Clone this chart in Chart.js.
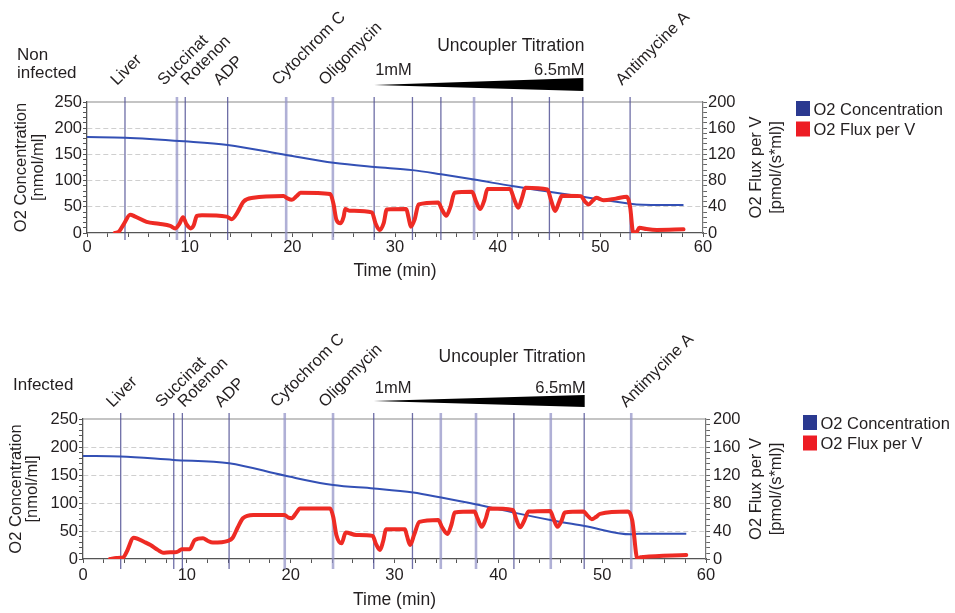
<!DOCTYPE html>
<html><head><meta charset="utf-8">
<script src="https://cdn.jsdelivr.net/npm/chart.js@4"></script>
<style>
html,body{margin:0;padding:0;background:#fff;}
#wrap{position:relative;width:955px;height:613px;overflow:hidden;}
canvas{position:absolute;left:0;}
</style></head><body>
<div id="wrap">
<canvas id="c1" width="955" height="300" style="top:0px"></canvas>
<canvas id="c2" width="955" height="313" style="top:300px"></canvas>
</div>
<script>
// ---------------- DATA ----------------
const seriesNames = ['O2 Concentration', 'O2 Flux per V'];
const conditionNI = ['Non', 'infected'];
const conditionI = ['Infected'];
const titrationTitle = 'Uncoupler Titration';
const titrationStart = '1mM';
const titrationEnd = '6.5mM';
const xTickLabels = [0, 10, 20, 30, 40, 50, 60];
const leftTickLabels = [0, 50, 100, 150, 200, 250];
const rightTickLabels = [0, 40, 80, 120, 160, 200];
const xTitle = 'Time (min)';
const leftTitle = ['O2 Concentration', '[nmol/ml]'];
const rightTitle = ['O2 Flux per V', '[pmol/(s*ml)]'];

const eventNames = ['Liver','Succinat','Rotenon','ADP','Cytochrom C','Oligomycin','','','','','','','','Antimycine A'];
const eventTimesNI = [3.7, 8.76, 9.57, 13.7, 19.4, 23.95, 27.97, 31.7, 34.47, 37.7, 41.4, 45.04, 48.3, 52.9];
const eventTimesI  = [3.63, 8.74, 9.57, 14.07, 19.43, 24.08, 28.0, 31.73, 34.46, 37.85, 41.5, 45.05, 48.27, 52.8];

// Non infected: O2 concentration (left axis)
const concTimeNI = [0, 3.7, 9.5, 13.7, 19.4, 24, 28, 31.7, 34.5, 37.7, 41.4, 45, 48.3, 52.9, 53.5, 58.1];
const concNI     = [183, 182, 175, 168, 149, 134, 126, 120, 112, 102, 89.5, 78.7, 69, 56, 54.5, 53.3];
// Non infected: O2 flux per V (right axis)
const fluxTimeNI = [2.7, 3.1, 3.6, 4.2, 4.7, 5.8, 7.0, 8.1, 8.6, 9.0, 9.35, 9.7, 10.1, 10.4, 10.7, 11.2, 13.6, 14.1, 14.6, 15.25, 16.2, 19.15, 19.5, 19.96, 20.4, 20.8, 23.7, 24.0, 24.3, 24.7, 25.0, 25.15, 25.6, 27.75, 28.1, 28.5, 28.9, 29.2, 31.1, 31.3, 31.55, 31.9, 32.3, 34.2, 34.6, 35.0, 35.4, 35.8, 37.5, 37.9, 38.3, 38.7, 39.0, 41.2, 41.6, 42.0, 42.4, 42.7, 44.85, 45.2, 45.6, 46.0, 46.25, 48.1, 48.5, 48.85, 49.3, 49.6, 50.3, 51.5, 52.6, 52.9, 53.2, 53.5, 53.8, 54.5, 55.5, 58.1];
const fluxNI     = [0, 2, 14, 28, 25, 17, 14, 11, 7, 14, 24, 13, 7, 12, 26, 27, 25, 21, 30, 48, 53.7, 56.3, 53, 50.7, 56, 61.4, 59.4, 45, 20, 15, 25, 36.5, 34, 31.5, 15, 4.6, 15, 36, 36.5, 25, 9.6, 20, 43.7, 46.7, 35, 26.4, 40, 61.4, 62.9, 48, 36.5, 50, 67, 67, 52, 38.5, 55, 69, 66.5, 50, 33.5, 48, 56.8, 56.3, 48, 43.7, 50, 53.7, 50, 52.5, 55.3, 40, 1, 1, 8, 6, 4.6, 5.6];

// Infected: O2 concentration (left axis)
const concTimeI = [0, 3.6, 8.7, 14.07, 19.4, 24.1, 28, 31.8, 34.5, 37.8, 41.5, 45, 48.3, 52.8, 53.5, 58.1];
const concI     = [184, 183, 177, 171, 149, 132, 126, 118.7, 109.7, 97.8, 82.8, 69.8, 59, 44, 45, 45];
// Infected: O2 flux per V (right axis)
const fluxTimeI = [2.6, 3.2, 3.85, 4.2, 4.88, 5.95, 6.5, 7.2, 7.7, 8.4, 8.83, 9.2, 9.5, 10.28, 10.76, 11.56, 12.0, 12.5, 13.97, 14.4, 14.9, 15.4, 16.4, 19.4, 19.8, 20.1, 20.5, 20.9, 23.8, 24.1, 24.4, 24.9, 25.3, 26.3, 27.9, 28.2, 28.6, 28.9, 29.2, 31.0, 31.2, 31.5, 31.9, 32.4, 34.2, 34.6, 35.1, 35.5, 35.8, 37.7, 38.0, 38.4, 38.8, 39.1, 41.4, 41.7, 42.1, 42.5, 42.9, 45.0, 45.3, 45.7, 46.1, 46.4, 48.2, 48.6, 49.0, 49.4, 49.8, 52.5, 52.9, 53.4, 53.7, 54.0, 58.1];
const fluxI     = [0, 1.5, 2, 10, 30.5, 24, 20, 13, 9, 9.5, 9.5, 11, 14, 14, 27, 29.6, 26, 23.4, 26, 30, 45, 58.2, 63, 63, 59, 58.2, 65, 72, 72, 60, 34.4, 22.4, 37.7, 34.4, 33, 22, 12.9, 25, 42.5, 42.5, 33, 20, 35, 53, 55.8, 45, 35.8, 50, 66.3, 67.7, 58, 46, 58, 72, 70, 58, 45.3, 55, 67.7, 68.7, 58, 46, 55, 66.3, 67.7, 62, 56.8, 60, 64.4, 67.7, 55, 0, 2.5, 3, 5.7];

// ---------------- STYLE ----------------
const FONT = '"Liberation Sans", Arial, Helvetica, sans-serif';
const TXT = '#231f20';
const BLUE_LINE = '#3350b5';
const BLUE_KEY = '#2b3990';
const RED_LINE = '#ee2b24';
const RED_KEY = '#ed1c24';

function pts(xs, ys) { return xs.map((x, i) => ({x: x, y: ys[i]})); }

function makeDecor(o) {
  return {
    id: 'decor_' + o.key,
    beforeDatasetsDraw(chart) {
      const ctx = chart.ctx, ca = chart.chartArea, xs = chart.scales.x;
      ctx.save();
      // top border
      ctx.strokeStyle = '#8a8a8a'; ctx.lineWidth = 1.2;
      ctx.beginPath(); ctx.moveTo(ca.left, ca.top); ctx.lineTo(ca.right, ca.top); ctx.stroke();
      // event lines
      o.times.forEach((t, i) => {
        const x = xs.getPixelForValue(t);
        if (o.shade[i]) { ctx.strokeStyle = 'rgba(85,85,150,0.85)'; ctx.lineWidth = 1.3; }
        else { ctx.strokeStyle = 'rgba(150,150,200,0.75)'; ctx.lineWidth = 2.6; }
        ctx.beginPath(); ctx.moveTo(x, ca.top - o.lineUp); ctx.lineTo(x, ca.bottom + o.lineDown); ctx.stroke();
      });
      ctx.restore();
    },
    afterDraw(chart) {
      const ctx = chart.ctx, ca = chart.chartArea, xs = chart.scales.x;
      ctx.save();
      ctx.fillStyle = TXT;
      ctx.font = '16.5px ' + FONT;
      // rotated event labels
      eventNames.forEach((name, i) => {
        if (!name) return;
        const x = xs.getPixelForValue(o.times[i]) + (o.labelOff[i] !== undefined ? o.labelOff[i] : -8);
        ctx.save();
        ctx.translate(x, o.labelY);
        ctx.rotate(-Math.PI / 4);
        ctx.textAlign = 'left'; ctx.textBaseline = 'alphabetic';
        ctx.fillText(name, 0, 0);
        ctx.restore();
      });
      // condition label
      ctx.font = '17px ' + FONT;
      ctx.textAlign = 'left'; ctx.textBaseline = 'alphabetic';
      o.cond.forEach((s, i) => ctx.fillText(s, o.condX, o.condY + i * 18));
      // uncoupler titration wedge
      const x0 = xs.getPixelForValue(o.times[6]);
      const x1 = xs.getPixelForValue(o.times[12]) + 0.5;
      ctx.beginPath();
      ctx.moveTo(x0, o.wedgeMid);
      ctx.lineTo(x1, o.wedgeTop);
      ctx.lineTo(x1, o.wedgeBot);
      ctx.closePath();
      ctx.fillStyle = '#000'; ctx.fill();
      ctx.fillStyle = TXT;
      ctx.textAlign = 'right';
      ctx.font = '17.5px ' + FONT;
      ctx.fillText(titrationTitle, x1 + 1, o.titleY);
      ctx.font = '16.5px ' + FONT;
      ctx.fillText(titrationEnd, x1 + 1, o.mmY);
      ctx.textAlign = 'left';
      ctx.fillText(titrationStart, x0 + 1, o.mmY);
      // right axis title (reads bottom to top)
      const cy = (ca.top + ca.bottom) / 2;
      rightTitle.forEach((s, i) => {
        ctx.save();
        ctx.translate(ca.right + o.rtX + i * 20.5, cy);
        ctx.rotate(-Math.PI / 2);
        ctx.textAlign = 'center'; ctx.textBaseline = 'middle';
        ctx.fillText(s, 0, 0);
        ctx.restore();
      });
      // legend
      const keys = [BLUE_KEY, RED_KEY];
      seriesNames.forEach((s, i) => {
        ctx.fillStyle = keys[i];
        ctx.fillRect(o.legX, o.legY + i * 20.5, 14, 15);
        ctx.fillStyle = TXT;
        ctx.textAlign = 'left'; ctx.textBaseline = 'alphabetic';
        ctx.fillText(s, o.legX + 17.5, o.legY + 14 + i * 20.2);
      });
      ctx.restore();
    }
  };
}

function makeChart(canvasId, o) {
  const tickFont = {family: FONT, size: 16.5};
  return new Chart(document.getElementById(canvasId), {
    type: 'line',
    data: {
      datasets: [
        {label: seriesNames[1], data: pts(o.fluxT, o.flux), yAxisID: 'y1', borderColor: RED_LINE, borderWidth: 4,
         pointRadius: 0, cubicInterpolationMode: 'monotone', order: 0, fill: false, borderJoinStyle: 'round', borderCapStyle: 'round'},
        {label: seriesNames[0], data: pts(o.concT, o.conc), yAxisID: 'y', borderColor: BLUE_LINE, borderWidth: 2,
         pointRadius: 0, cubicInterpolationMode: 'monotone', order: 1, fill: false}
      ]
    },
    options: {
      responsive: false, animation: false, events: [],
      layout: {padding: o.pad},
      plugins: {legend: {display: false}, tooltip: {enabled: false}, title: {display: false}},
      scales: {
        x: {
          type: 'linear', min: 0, max: 60,
          afterFit: s => { s.height = o.xH; },
          ticks: {stepSize: 2, maxTicksLimit: 100, autoSkip: false, maxRotation: 0, padding: o.xTickPad, font: tickFont, color: TXT,
                  callback: v => xTickLabels.includes(v) ? String(v) : ''},
          grid: {drawOnChartArea: false, drawTicks: true, tickLength: 4, tickColor: '#555', tickWidth: 1},
          border: {display: true, color: '#555', width: 1.3},
          title: {display: true, text: xTitle, font: {family: FONT, size: 17.5}, color: TXT, padding: {top: 0, bottom: o.xTitlePad}}
        },
        y: {
          type: 'linear', position: 'left', min: 0, max: 250,
          afterFit: s => { s.width = o.yW; },
          ticks: {stepSize: 10, maxTicksLimit: 100, autoSkip: false, padding: 1, font: tickFont, color: TXT,
                  callback: v => leftTickLabels.includes(v) ? String(v) : ''},
          grid: {
            drawOnChartArea: true, drawTicks: true, tickLength: 4, tickColor: '#555', tickWidth: 1, tickBorderDash: [],
            lineWidth: 1,
            color: c => (c.tick && c.tick.value % 50 === 0 && c.tick.value > 0 && c.tick.value < 250) ? '#cfcfcf' : 'rgba(0,0,0,0)',
            borderDash: [5, 3]
          },
          border: {display: true, color: '#555', width: 1.3, dash: [5, 3]},
          title: {display: true, text: leftTitle, font: {family: FONT, size: 16.5, lineHeight: 1.0}, color: TXT,
                  padding: {top: o.yTitlePad, bottom: 0}}
        },
        y1: {
          type: 'linear', position: 'right', min: 0, max: 200,
          afterFit: s => { s.width = 85; },
          ticks: {stepSize: 8, maxTicksLimit: 100, autoSkip: false, padding: o.rTickPad, font: tickFont, color: TXT,
                  callback: v => rightTickLabels.includes(v) ? String(v) : ''},
          grid: {drawOnChartArea: false, drawTicks: true, tickLength: 4, tickColor: '#666', tickWidth: 1},
          border: {display: true, color: '#777', width: 1.2},
          title: {display: false}
        }
      }
    },
    plugins: [makeDecor(o)]
  });
}

makeChart('c1', {
  key: 'ni', times: eventTimesNI, concT: concTimeNI, conc: concNI, fluxT: fluxTimeNI, flux: fluxNI,
  pad: {top: 102, left: 0, right: 167, bottom: 15}, xH: 52, xTickPad: 1, xTitlePad: 3, yW: 87, yTitlePad: 13.5, rTickPad: 1,
  shade: [1,0,1,1,0,0,1,1,1,0,1,1,1,1],
  labelOff: {1: -13, 2: 2},
  labelY: 86, lineUp: 5, lineDown: 7,
  cond: conditionNI, condX: 17, condY: 60,
  wedgeMid: 85, wedgeTop: 78, wedgeBot: 91, titleY: 51, mmY: 75,
  rtX: 53, legX: 796, legY: 101
});

makeChart('c2', {
  key: 'i', times: eventTimesI, concT: concTimeI, conc: concI, fluxT: fluxTimeI, flux: fluxI,
  pad: {top: 119, left: 0, right: 164, bottom: 0}, xH: 54, xTickPad: 3, xTitlePad: 2, yW: 83, yTitlePad: 8.2, rTickPad: 3,
  shade: [1,1,1,1,0,0,1,1,0,0,1,0,1,0],
  labelOff: {1: -12, 2: 2, 13: -5},
  labelY: 108, lineUp: 6, lineDown: 10,
  cond: conditionI, condX: 13, condY: 90,
  wedgeMid: 101, wedgeTop: 95, wedgeBot: 107, titleY: 62, mmY: 93,
  rtX: 50, legX: 803, legY: 115
});
</script>
</body></html>
